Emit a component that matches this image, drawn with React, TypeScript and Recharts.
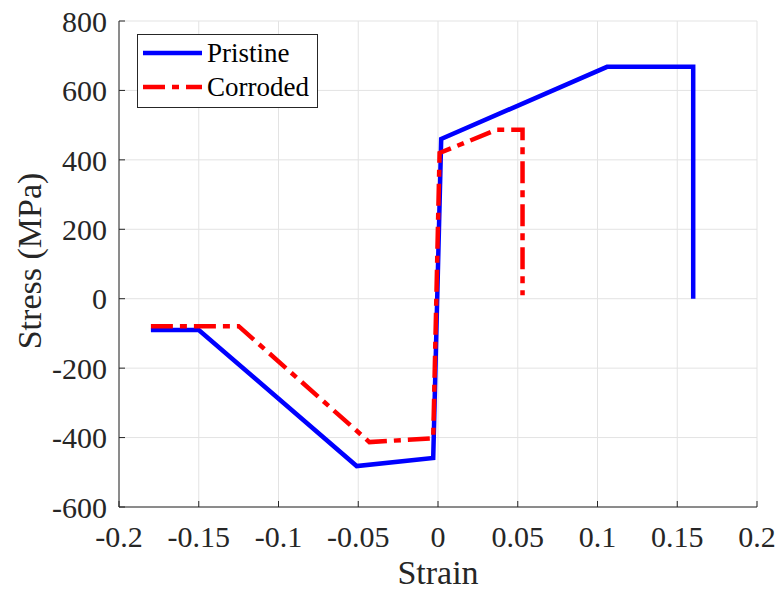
import { CartesianGrid, Label, Legend, Line, LineChart, XAxis, YAxis } from 'recharts';

// strain / stress
const pristineStrain = [-0.18, -0.15, -0.051, -0.003, 0.002, 0.106, 0.16, 0.16];
const pristineStress = [-90, -90, -482, -459, 460, 668, 668, 0];

const corrodedStrain = [-0.18, -0.125, -0.043, -0.003, 0.001, 0.037, 0.053, 0.053];
const corrodedStress = [-79, -79, -413, -402, 420, 487, 487, 10];

const xTicks = [-0.2, -0.15, -0.1, -0.05, 0, 0.05, 0.1, 0.15, 0.2];
const yTicks = [-600, -400, -200, 0, 200, 400, 600, 800];

const seriesNames = ['Pristine', 'Corroded'];

const FONT = '"Liberation Serif", "Times New Roman", serif';
const INK = '#262626';
const DASH = '22 7 7 7';

const pristine = pristineStrain.map((s, i) => ({ strain: s, stress: pristineStress[i] }));
const corroded = corrodedStrain.map((s, i) => ({ strain: s, stress: corrodedStress[i] }));

function LegendBox() {
  return (
    <svg width={181} height={74} style={{ display: 'block' }}>
      <rect x={0.5} y={0.5} width={180} height={73} fill='#fff' stroke={INK} strokeWidth={1} />
      <line x1={6} x2={65} y1={19} y2={19} stroke='#0000ff' strokeWidth={4.5} />
      <line x1={6} x2={65} y1={53} y2={53} stroke='#ff0000' strokeWidth={4.5} strokeDasharray={DASH} />
      <text x={70} y={28} fontFamily={FONT} fontSize={27} fill='#000'>{seriesNames[0]}</text>
      <text x={70} y={62} fontFamily={FONT} fontSize={27} fill='#000'>{seriesNames[1]}</text>
    </svg>
  );
}

// plain tick text so the serif font sticks
function Tick(props: any) {
  const { x, y, payload, textAnchor, verticalAnchor } = props;
  const dy = verticalAnchor === 'start' ? '0.71em' : '0.355em';
  return (
    <text x={x} y={y} dy={dy} textAnchor={textAnchor} fontFamily={FONT} fontSize={30} fill={INK}>
      {String(payload.value)}
    </text>
  );
}

export default function App() {
  return (
    <div style={{ position: 'absolute', left: 0, top: 0, width: 777, height: 590, background: '#fff', fontFamily: FONT }}>
      <LineChart width={777} height={590} margin={{ top: 21, right: 20, left: 0, bottom: 0 }} style={{ fontFamily: FONT }}>
        <CartesianGrid stroke='#e3e3e3' strokeWidth={1} />
        <XAxis
          dataKey='strain'
          type='number'
          domain={[-0.2, 0.2]}
          ticks={xTicks}
          interval={0}
          allowDataOverflow
          height={83}
          stroke={INK}
          tickSize={-6}
          tickMargin={25}
          tick={<Tick />}>
          <Label value='Strain' position='insideBottom' offset={6} style={{ fontSize: 34, fontFamily: FONT, fill: INK }} />
        </XAxis>
        <XAxis
          xAxisId='top'
          orientation='top'
          type='number'
          domain={[-0.2, 0.2]}
          ticks={xTicks}
          interval={0}
          allowDataOverflow
          height={0}
          stroke={INK}
          tickSize={-6}
          tick={false}
        />
        <YAxis
          type='number'
          domain={[-600, 800]}
          ticks={yTicks}
          interval={0}
          allowDataOverflow
          width={119}
          stroke={INK}
          tickSize={-6}
          tickMargin={18}
          tick={<Tick />}>
          <Label
            value='Stress (MPa)'
            angle={-90}
            position='center'
            dx={-31}
            dy={-3}
            style={{ fontSize: 34, fontFamily: FONT, fill: INK, textAnchor: 'middle' }}
          />
        </YAxis>
        <YAxis
          yAxisId='right'
          orientation='right'
          type='number'
          domain={[-600, 800]}
          ticks={yTicks}
          interval={0}
          allowDataOverflow
          width={0}
          stroke={INK}
          tickSize={-6}
          tick={false}
        />
        <Legend
          layout='vertical'
          align='center'
          verticalAlign='middle'
          wrapperStyle={{ left: 137, top: 34, width: 181 }}
          content={() => <LegendBox />}
        />
        <Line
          data={pristine}
          dataKey='stress'
          name={seriesNames[0]}
          type='linear'
          stroke='#0000ff'
          strokeWidth={4.5}
          dot={false}
          activeDot={false}
          isAnimationActive={false}
        />
        <Line
          data={corroded}
          dataKey='stress'
          name={seriesNames[1]}
          type='linear'
          stroke='#ff0000'
          strokeWidth={4.5}
          strokeDasharray={DASH}
          dot={false}
          activeDot={false}
          isAnimationActive={false}
        />
      </LineChart>
    </div>
  );
}
